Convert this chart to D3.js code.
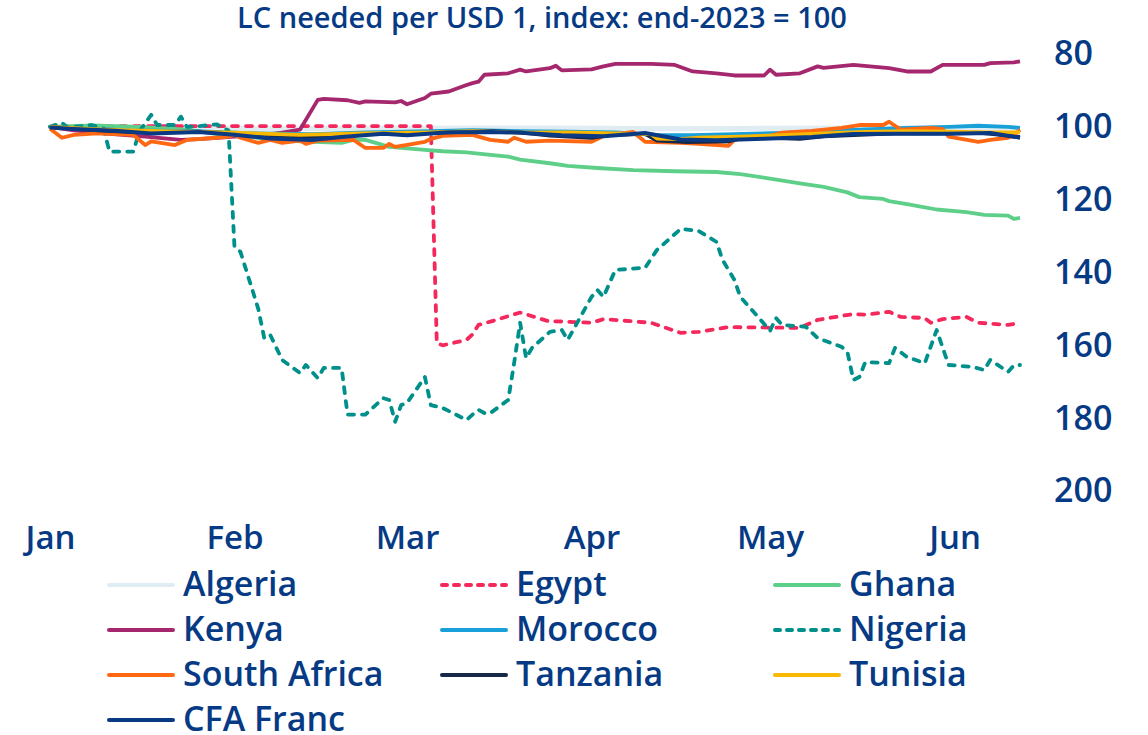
<!DOCTYPE html>
<html>
<head>
<meta charset="utf-8">
<script src="https://cdn.jsdelivr.net/npm/d3@7"></script>
<style>
  body { margin: 0; background: #ffffff; }
  svg { display: block; font-family: "Open Sans", Lato, sans-serif; }
</style>
</head>
<body>
<svg id="chart" width="1148" height="735"></svg>
<script>
// ---- data -------------------------------------------------------------
const chartTitle = "LC needed per USD 1, index: end-2023 = 100";
const yTickValues = [80, 100, 120, 140, 160, 180, 200];
const monthTickDates = ["2024-01-01", "2024-02-01", "2024-03-01", "2024-04-01", "2024-05-01", "2024-06-01"];
const monthTickLabels = ["Jan", "Feb", "Mar", "Apr", "May", "Jun"];

const algeria = [
  ["2024-01-01", 100.0], ["2024-01-10", 100.2], ["2024-01-24", 100.4], ["2024-02-07", 100.5],
  ["2024-02-21", 100.4], ["2024-03-06", 100.4], ["2024-03-20", 100.3], ["2024-04-03", 100.4],
  ["2024-04-17", 100.5], ["2024-05-01", 100.4], ["2024-05-15", 100.3], ["2024-05-29", 100.3],
  ["2024-06-12", 100.4]
];
const egypt = [
  ["2024-01-01", 100.0], ["2024-01-15", 99.8], ["2024-02-01", 99.8], ["2024-02-15", 99.8],
  ["2024-03-01", 99.8], ["2024-03-05", 99.8], ["2024-03-06", 159.4], ["2024-03-07", 160.0],
  ["2024-03-11", 158.5], ["2024-03-12", 157.0], ["2024-03-13", 154.4], ["2024-03-15", 153.5],
  ["2024-03-20", 151.0], ["2024-03-25", 153.5], ["2024-03-26", 153.4], ["2024-04-01", 153.8],
  ["2024-04-03", 152.8], ["2024-04-11", 153.8], ["2024-04-16", 156.6], ["2024-04-19", 156.3],
  ["2024-04-24", 155.0], ["2024-05-06", 155.2], ["2024-05-09", 153.0], ["2024-05-15", 151.4],
  ["2024-05-17", 151.6], ["2024-05-21", 150.8], ["2024-05-23", 152.2], ["2024-05-27", 152.5],
  ["2024-05-28", 153.8], ["2024-05-30", 152.8], ["2024-06-03", 152.2], ["2024-06-05", 153.8],
  ["2024-06-10", 154.4], ["2024-06-12", 153.8]
];
const ghana = [
  ["2024-01-01", 100.0], ["2024-01-08", 99.6], ["2024-01-16", 100.0], ["2024-01-24", 100.8],
  ["2024-01-31", 102.4], ["2024-02-05", 103.0], ["2024-02-12", 104.0], ["2024-02-19", 104.4],
  ["2024-02-21", 103.6], ["2024-02-23", 103.6], ["2024-02-27", 105.5], ["2024-03-04", 106.3],
  ["2024-03-07", 106.7], ["2024-03-11", 107.0], ["2024-03-15", 107.7], ["2024-03-18", 108.2],
  ["2024-03-20", 109.0], ["2024-03-25", 110.0], ["2024-03-28", 110.7], ["2024-04-02", 111.3],
  ["2024-04-08", 111.9], ["2024-04-15", 112.2], ["2024-04-22", 112.4], ["2024-04-26", 113.0],
  ["2024-05-01", 114.2], ["2024-05-06", 115.5], ["2024-05-10", 116.5], ["2024-05-14", 118.0],
  ["2024-05-16", 119.3], ["2024-05-20", 119.8], ["2024-05-21", 120.4], ["2024-05-24", 121.2],
  ["2024-05-27", 122.1], ["2024-05-29", 122.7], ["2024-06-03", 123.4], ["2024-06-06", 124.2],
  ["2024-06-10", 124.4], ["2024-06-11", 125.3], ["2024-06-12", 125.0]
];
const kenya = [
  ["2024-01-01", 100.0], ["2024-01-05", 101.0], ["2024-01-10", 101.8], ["2024-01-17", 102.7],
  ["2024-01-23", 103.6], ["2024-01-26", 103.4], ["2024-02-01", 102.7], ["2024-02-06", 102.2],
  ["2024-02-09", 101.6], ["2024-02-12", 100.8], ["2024-02-15", 92.6], ["2024-02-16", 92.3],
  ["2024-02-20", 92.7], ["2024-02-22", 93.4], ["2024-02-23", 93.0], ["2024-02-28", 93.3],
  ["2024-02-29", 92.9], ["2024-03-01", 93.8], ["2024-03-04", 92.1], ["2024-03-05", 90.9],
  ["2024-03-08", 90.3], ["2024-03-11", 88.5], ["2024-03-12", 88.0], ["2024-03-13", 87.6],
  ["2024-03-14", 85.7], ["2024-03-18", 85.3], ["2024-03-20", 84.3], ["2024-03-21", 84.8],
  ["2024-03-25", 83.9], ["2024-03-26", 83.2], ["2024-03-27", 84.5], ["2024-04-01", 84.2],
  ["2024-04-03", 83.4], ["2024-04-05", 82.7], ["2024-04-11", 82.7], ["2024-04-15", 83.0],
  ["2024-04-18", 84.8], ["2024-04-22", 85.3], ["2024-04-25", 85.9], ["2024-04-30", 85.9],
  ["2024-05-01", 84.3], ["2024-05-02", 85.7], ["2024-05-06", 85.3], ["2024-05-09", 83.4],
  ["2024-05-10", 83.8], ["2024-05-15", 83.0], ["2024-05-21", 83.9], ["2024-05-24", 84.8],
  ["2024-05-28", 84.8], ["2024-05-30", 83.0], ["2024-06-06", 83.0], ["2024-06-07", 82.5],
  ["2024-06-11", 82.3], ["2024-06-12", 82.0]
];
const morocco = [
  ["2024-01-01", 100.0], ["2024-01-05", 100.5], ["2024-01-15", 101.0], ["2024-01-25", 101.2],
  ["2024-02-05", 101.8], ["2024-02-14", 102.0], ["2024-02-23", 101.5], ["2024-03-05", 101.2],
  ["2024-03-12", 100.9], ["2024-03-20", 101.2], ["2024-03-28", 101.3], ["2024-04-05", 101.5],
  ["2024-04-12", 102.3], ["2024-04-18", 102.3], ["2024-04-25", 102.0], ["2024-05-03", 101.7],
  ["2024-05-10", 101.2], ["2024-05-17", 100.7], ["2024-05-24", 100.3], ["2024-05-31", 100.0],
  ["2024-06-05", 99.7], ["2024-06-10", 100.0], ["2024-06-12", 100.3]
];
const nigeria = [
  ["2024-01-01", 100.0], ["2024-01-03", 98.9], ["2024-01-04", 100.2], ["2024-01-08", 99.5],
  ["2024-01-10", 100.5], ["2024-01-11", 106.8], ["2024-01-15", 106.8], ["2024-01-16", 101.3],
  ["2024-01-18", 96.7], ["2024-01-19", 99.5], ["2024-01-22", 99.5], ["2024-01-23", 97.2],
  ["2024-01-24", 100.0], ["2024-01-26", 99.8], ["2024-01-29", 99.3], ["2024-01-30", 100.2],
  ["2024-01-31", 101.0], ["2024-02-01", 133.0], ["2024-02-02", 134.3], ["2024-02-05", 150.0],
  ["2024-02-06", 158.0], ["2024-02-07", 157.1], ["2024-02-09", 164.0], ["2024-02-12", 167.6],
  ["2024-02-13", 165.4], ["2024-02-15", 169.0], ["2024-02-16", 166.2], ["2024-02-19", 166.2],
  ["2024-02-20", 179.0], ["2024-02-23", 179.0], ["2024-02-26", 174.5], ["2024-02-27", 175.0],
  ["2024-02-28", 181.0], ["2024-02-29", 176.4], ["2024-03-01", 175.8], ["2024-03-04", 168.7],
  ["2024-03-05", 176.4], ["2024-03-07", 177.2], ["2024-03-11", 180.5], ["2024-03-12", 179.0],
  ["2024-03-13", 177.7], ["2024-03-14", 178.6], ["2024-03-15", 178.6], ["2024-03-18", 175.0],
  ["2024-03-19", 164.8], ["2024-03-20", 153.8], ["2024-03-21", 163.5], ["2024-03-22", 160.7],
  ["2024-03-25", 156.3], ["2024-03-27", 155.8], ["2024-03-28", 158.5], ["2024-04-01", 146.7],
  ["2024-04-02", 144.8], ["2024-04-03", 146.7], ["2024-04-05", 139.3], ["2024-04-10", 138.7],
  ["2024-04-12", 133.8], ["2024-04-16", 128.0], ["2024-04-19", 128.6], ["2024-04-22", 131.6],
  ["2024-04-23", 136.5], ["2024-04-25", 142.0], ["2024-04-26", 146.7], ["2024-04-29", 152.2],
  ["2024-05-01", 156.0], ["2024-05-02", 152.5], ["2024-05-03", 154.4], ["2024-05-07", 154.9],
  ["2024-05-09", 158.0], ["2024-05-13", 160.4], ["2024-05-14", 161.8], ["2024-05-15", 169.5],
  ["2024-05-16", 168.7], ["2024-05-17", 164.6], ["2024-05-21", 164.9], ["2024-05-22", 160.7],
  ["2024-05-24", 163.2], ["2024-05-27", 164.9], ["2024-05-29", 155.8], ["2024-05-31", 165.4],
  ["2024-06-04", 165.9], ["2024-06-06", 166.8], ["2024-06-07", 164.0], ["2024-06-10", 167.3],
  ["2024-06-11", 165.4], ["2024-06-12", 165.4]
];
const southAfrica = [
  ["2024-01-01", 100.5], ["2024-01-03", 103.0], ["2024-01-05", 102.2], ["2024-01-09", 101.8],
  ["2024-01-15", 102.2], ["2024-01-16", 103.6], ["2024-01-17", 105.0], ["2024-01-18", 104.0],
  ["2024-01-22", 105.0], ["2024-01-24", 103.6], ["2024-01-29", 103.0], ["2024-01-31", 102.7],
  ["2024-02-01", 102.2], ["2024-02-02", 103.0], ["2024-02-05", 104.4], ["2024-02-07", 103.6],
  ["2024-02-09", 104.4], ["2024-02-12", 103.8], ["2024-02-13", 104.7], ["2024-02-15", 103.8],
  ["2024-02-21", 103.6], ["2024-02-23", 105.8], ["2024-02-26", 105.8], ["2024-02-27", 104.7],
  ["2024-02-28", 105.5], ["2024-03-04", 104.1], ["2024-03-05", 103.3], ["2024-03-07", 102.5],
  ["2024-03-12", 102.2], ["2024-03-13", 102.7], ["2024-03-15", 103.6], ["2024-03-18", 104.1],
  ["2024-03-19", 103.0], ["2024-03-21", 104.1], ["2024-03-25", 103.8], ["2024-04-01", 104.1],
  ["2024-04-03", 102.5], ["2024-04-08", 101.4], ["2024-04-10", 104.1], ["2024-04-16", 104.4],
  ["2024-04-19", 104.7], ["2024-04-24", 105.2], ["2024-04-25", 103.6], ["2024-04-29", 102.5],
  ["2024-05-01", 102.5], ["2024-05-03", 101.6], ["2024-05-08", 101.1], ["2024-05-13", 100.3],
  ["2024-05-16", 99.5], ["2024-05-20", 99.5], ["2024-05-21", 98.6], ["2024-05-23", 100.8],
  ["2024-05-28", 100.3], ["2024-05-30", 100.6], ["2024-05-31", 102.7], ["2024-06-05", 104.1],
  ["2024-06-07", 103.6], ["2024-06-10", 103.0], ["2024-06-11", 102.2], ["2024-06-12", 100.8]
];
const tanzania = [
  ["2024-01-01", 100.0], ["2024-01-09", 101.0], ["2024-01-16", 101.5], ["2024-01-26", 101.3],
  ["2024-02-01", 101.8], ["2024-02-08", 102.5], ["2024-02-15", 102.8], ["2024-02-22", 102.0],
  ["2024-03-01", 101.8], ["2024-03-08", 101.5], ["2024-03-15", 101.2], ["2024-03-20", 101.5],
  ["2024-03-25", 102.4], ["2024-04-01", 103.0], ["2024-04-04", 102.3], ["2024-04-10", 101.9],
  ["2024-04-12", 103.8], ["2024-04-17", 104.2], ["2024-04-24", 104.0], ["2024-04-26", 103.2],
  ["2024-05-01", 103.0], ["2024-05-06", 103.3], ["2024-05-10", 102.6], ["2024-05-16", 102.2],
  ["2024-05-22", 101.8], ["2024-05-29", 101.8], ["2024-06-05", 101.6], ["2024-06-10", 102.4],
  ["2024-06-12", 103.0]
];
const tunisia = [
  ["2024-01-01", 100.0], ["2024-01-10", 100.8], ["2024-01-20", 101.2], ["2024-02-01", 101.6],
  ["2024-02-12", 102.2], ["2024-02-22", 101.8], ["2024-03-05", 101.5], ["2024-03-12", 101.2],
  ["2024-03-20", 101.6], ["2024-03-28", 101.5], ["2024-04-05", 101.8], ["2024-04-11", 102.0],
  ["2024-04-12", 103.2], ["2024-04-16", 103.4], ["2024-04-19", 103.0], ["2024-04-26", 102.7],
  ["2024-05-03", 102.3], ["2024-05-10", 101.8], ["2024-05-17", 101.4], ["2024-05-24", 101.2],
  ["2024-05-31", 101.3], ["2024-06-07", 101.5], ["2024-06-12", 101.5]
];
const cfaFranc = [
  ["2024-01-01", 100.2], ["2024-01-05", 100.6], ["2024-01-12", 101.1], ["2024-01-18", 101.8],
  ["2024-01-26", 101.4], ["2024-02-01", 102.2], ["2024-02-07", 103.2], ["2024-02-14", 103.6],
  ["2024-02-19", 102.8], ["2024-02-26", 101.9], ["2024-03-01", 102.3], ["2024-03-08", 101.5],
  ["2024-03-15", 101.4], ["2024-03-20", 101.6], ["2024-03-27", 102.3], ["2024-04-03", 102.6],
  ["2024-04-10", 101.7], ["2024-04-16", 103.5], ["2024-04-22", 103.7], ["2024-04-30", 103.3],
  ["2024-05-08", 102.8], ["2024-05-15", 102.0], ["2024-05-22", 101.9], ["2024-05-31", 101.9],
  ["2024-06-07", 101.7], ["2024-06-11", 102.7], ["2024-06-12", 102.8]
];

const seriesNames = ["Algeria", "Egypt", "Ghana", "Kenya", "Morocco", "Nigeria",
                     "South Africa", "Tanzania", "Tunisia", "CFA Franc"];
const seriesData = [algeria, egypt, ghana, kenya, morocco, nigeria,
                    southAfrica, tanzania, tunisia, cfaFranc];

// ---- styling ----------------------------------------------------------
const seriesColors = ["#dfecf1", "#f5285c", "#5ecf89", "#a5286e", "#1aa0d8",
                      "#00908b", "#ff6813", "#17284a", "#f9b800", "#0a3a84"];
const seriesDashed = [false, true, false, false, false, true, false, false, false, false];
const seriesWidths = [5, 3.8, 3.8, 3.8, 3.8, 3.8, 3.8, 3.8, 3.8, 4];
const textColor = "#063a84";

const svg = d3.select("#chart");
const parse = d3.timeParse("%Y-%m-%d");

const x = d3.scaleTime()
  .domain([parse("2024-01-01"), parse("2024-06-12")])
  .range([50, 1020]);
const y = d3.scaleLinear()
  .domain([80, 200])
  .range([54, 491]);

// title
svg.append("text")
  .attr("x", 542).attr("y", 28)
  .attr("text-anchor", "middle")
  .attr("fill", textColor)
  .attr("font-size", 29).attr("font-weight", 600)
  .text(chartTitle);

// right value axis (reversed: weaker currency lower)
const yAxis = d3.axisRight(y).tickValues(yTickValues).tickSize(0).tickPadding(0);
const gy = svg.append("g").attr("transform", "translate(1054,0)").call(yAxis);
gy.select(".domain").remove();
gy.selectAll("text")
  .attr("fill", textColor).attr("font-size", 34).attr("font-weight", 600)
  .attr("font-family", "'Open Sans', sans-serif");

// month axis
const xAxis = d3.axisBottom(x)
  .tickValues(monthTickDates.map(parse))
  .tickFormat((d, i) => monthTickLabels[i])
  .tickSize(0).tickPadding(0);
const gx = svg.append("g").attr("transform", "translate(0,526)").call(xAxis);
gx.select(".domain").remove();
gx.selectAll("text")
  .attr("fill", textColor).attr("font-size", 33).attr("font-weight", 600)
  .attr("font-family", "'Open Sans', sans-serif");

// series lines
const line = d3.line()
  .x(d => x(parse(d[0])))
  .y(d => y(d[1]));

const plot = svg.append("g");
seriesData.forEach((data, i) => {
  plot.append("path")
    .datum(data)
    .attr("d", line)
    .attr("fill", "none")
    .attr("stroke", seriesColors[i])
    .attr("stroke-width", seriesWidths[i])
    .attr("stroke-linejoin", "round")
    .attr("stroke-linecap", seriesDashed[i] ? "round" : "butt")
    .attr("stroke-dasharray", seriesDashed[i] ? "6,8" : null);
});

// legend, three columns
const legendCols = [107, 440, 773];
const legendRow0 = 585, legendRowStep = 45;
const legend = svg.append("g");
seriesNames.forEach((name, i) => {
  const cx = legendCols[i % 3];
  const cy = legendRow0 + Math.floor(i / 3) * legendRowStep;
  const g = legend.append("g").attr("transform", `translate(${cx},${cy})`);
  g.append("line")
    .attr("x1", 2).attr("x2", 66).attr("y1", 0).attr("y2", 0)
    .attr("stroke", seriesColors[i]).attr("stroke-width", 4)
    .attr("stroke-linecap", "round")
    .attr("stroke-dasharray", seriesDashed[i] ? "5,7" : null);
  g.append("text")
    .attr("x", 76).attr("y", 11)
    .attr("fill", textColor).attr("font-size", 34).attr("font-weight", 600)
    .text(name);
});
</script>
</body>
</html>
